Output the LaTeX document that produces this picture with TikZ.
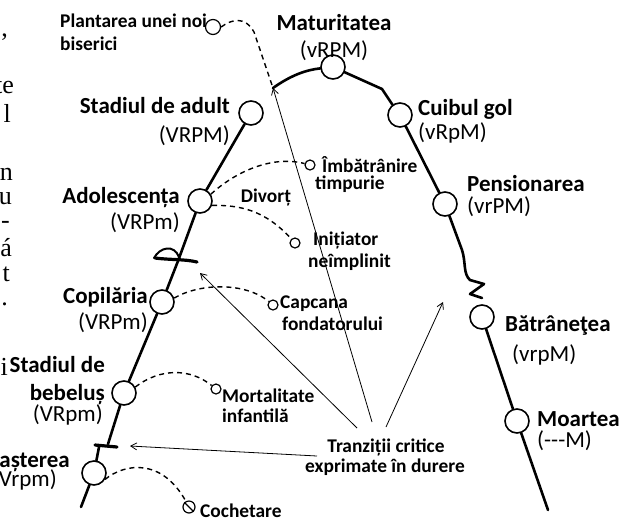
\documentclass[tikz,border=0pt]{standalone}
\usepackage{fontspec}
\setmainfont{Carlito}
\newfontfamily\fragfont{Liberation Serif}
\usetikzlibrary{arrows.meta}
\begin{document}
\begin{tikzpicture}[x=1pt,y=-1pt,
  stage/.style={circle, draw, line width=1.6pt, fill=white, minimum size=24pt, inner sep=0pt},
  mini/.style={circle, draw, line width=1.2pt, fill=white, minimum size=10pt, inner sep=0pt},
  mainline/.style={line width=2.6pt, line cap=round, line join=round},
  crack/.style={line width=3.2pt, line cap=round, line join=round},
  dashline/.style={line width=1.4pt, dash pattern=on 5pt off 4pt},
  pain/.style={line width=0.8pt, -{Straight Barb[length=6pt,width=7pt]}},
  lab/.style={font=\bfseries\fontsize{23}{27}\selectfont, inner sep=0pt},
  sub/.style={font=\fontsize{23}{27}\selectfont, inner sep=0pt},
  tr/.style={font=\bfseries\fontsize{19.4}{23}\selectfont, inner sep=0pt},
  frag/.style={font=\fragfont\fontsize{26}{28}\selectfont, inner sep=0pt}
]
\useasboundingbox (0,0) rectangle (620,520);

% ---------- stage circles ----------
\node[stage] (nMat)   at (333,67)  {};
\node[stage] (nCuib)  at (400,115) {};
\node[stage] (nAdult) at (251,113) {};
\node[stage] (nAdol)  at (200,201) {};
\node[stage] (nCop)   at (162,302) {};
\node[stage] (nPens)  at (445,204) {};
\node[stage] (nBatr)  at (482,317) {};
\node[stage] (nBeb)   at (124,393) {};
\node[stage] (nNast)  at (94,473)  {};
\node[stage] (nMoar)  at (517,421) {};

% ---------- small circles ----------
\node[mini, minimum size=15pt] (mPlant) at (213,27) {};
\node[mini] (mImb)  at (310,165) {};
\node[mini] (mInit) at (295,243) {};
\node[mini] (mCap)  at (273,305) {};
\node[mini] (mMort) at (216,389) {};
\node[mini, minimum size=12pt] (mCoch) at (189,507) {};
\draw[line width=1.1pt] (mCoch.135) -- (mCoch.-45);

% ---------- helper coordinates ----------
\coordinate (startL) at (81,507);
\coordinate (k1a) at (99,447);
\coordinate (k1b) at (108,444);
\coordinate (k2)  at (178,261);
\coordinate (mstart) at (273,88);
\coordinate (m1) at (382,89);
\coordinate (m2) at (392,104);
\coordinate (endR) at (548,510);

% ---------- main life line ----------
\draw[mainline] (startL) -- (nNast);
\draw[mainline] (nNast) -- (k1a);
\draw[mainline] (k1b) -- (nBeb);
\draw[mainline] (nBeb) -- (nCop);
\draw[mainline] (nCop) -- (k2) -- (nAdol);
\draw[mainline] (nAdol) -- (nAdult);
\draw[mainline] (mstart) .. controls (290,76) and (305,70) .. (nMat);
\draw[mainline] (nMat) -- (m1) -- (m2) -- (nCuib);
\draw[mainline] (nCuib) -- (nPens);
\draw[mainline] (nPens) -- (462,250) .. controls (466,262) and (463,274) .. (470,280)
   -- (484,284) -- (470,294) -- (482,298);
\draw[mainline] (nBatr) -- (nMoar);
\draw[mainline] (nMoar) -- (endR);

% ---------- crack marks ----------
\draw[crack] (95,445) -- (117,447);
\draw[line width=2pt, line cap=round] (154,258) .. controls (160,247) and (174,244) .. (179,257);
\draw[crack] (155,258) .. controls (170,260) and (185,259) .. (197,262);

% ---------- dashed branches ----------
\draw[dashline] (mPlant.east) .. controls (232,19) and (245,16) .. (254,32) -- (mstart);
\draw[dashline] (nAdol.32) .. controls (235,172) and (272,155) .. (mImb);
\draw[dashline] (nAdol.-20) .. controls (240,205) and (265,210) .. (mInit);
\draw[dashline] (nCop.18) .. controls (200,283) and (245,282) .. (mCap);
\draw[dashline] (nBeb.28) .. controls (160,368) and (190,368) .. (mMort);
\draw[dashline] (nNast.-30) .. controls (125,463) and (162,458) .. (mCoch);

% ---------- critical transitions ----------
\node[tr, anchor=base] (tr1) at (386,452) {Tranziții critice};
\node[tr, anchor=base] (tr2) at (385,472) {exprimate în durere};
\coordinate (ta1) at (357,428);
\coordinate (ta2) at (372,422);
\coordinate (ta3) at (386,427);
\coordinate (ta4) at (317,456);
\coordinate (tg1) at (200,273);
\coordinate (tg3) at (443,302);
\coordinate (tg4) at (130,446);
\draw[pain] (ta1) -- (tg1);
\draw[pain] (ta2) -- (mstart);
\draw[pain] (ta3) -- (tg3);
\draw[pain] (ta4) -- (tg4);

% ---------- stage labels ----------
\node[lab, anchor=base] (tMat) at (334,30) {Maturitatea};
\node[sub, anchor=base] (sMat) at (334,57) {(vRPM)};
\node[lab, anchor=base east] (tAdult) at (230,113) {Stadiul de adult};
\node[sub, anchor=base east] (sAdult) at (230,142) {(VRPM)};
\node[lab, anchor=base west] (tCuib) at (418,115) {Cuibul gol};
\node[sub, anchor=base west] (sCuib) at (418,139) {(vRpM)};
\node[lab, anchor=base east] (tAdol) at (180,203) {Adolescența};
\node[sub, anchor=base east] (sAdol) at (180,229) {(VRPm)};
\node[lab, anchor=base east] (tCop) at (148,303) {Copilăria};
\node[sub, anchor=base east] (sCop) at (148,329) {(VRPm)};
\node[lab, anchor=base west] (tPens) at (467,191) {Pensionarea};
\node[sub, anchor=base west] (sPens) at (467,213) {(vrPM)};
\node[lab, anchor=base west] (tBatr) at (505,331) {Bătrâneţea};
\node[sub, anchor=base west] (sBatr) at (512,361) {(vrpM)};
\node[lab, anchor=base west] (tMoar) at (537,426) {Moartea};
\node[sub, anchor=base west] (sMoar) at (537,447) {({-}{-}{-}M)};
\node[lab, anchor=base east] (tBeb1) at (105,372) {Stadiul de};
\node[lab, anchor=base east] (tBeb2) at (105,400) {bebeluș};
\node[sub, anchor=base east] (sBeb) at (103,421) {(VRpm)};
\node[lab, anchor=base east] (tNast) at (70,467) {Nașterea};
\node[sub, anchor=base east] (sNast) at (57,486) {(Vrpm)};

% ---------- branch labels ----------
\node[tr, anchor=base west] (lPl1) at (60,27) {Plantarea unei noi};
\node[tr, anchor=base west] (lPl2) at (60,50) {biserici};
\node[tr, anchor=base] (lDiv) at (266,202) {Divorț};
\node[tr, anchor=base west] (lImb1) at (322,172) {Îmbătrânire};
\node[tr, anchor=base west] (lImb2) at (315,189) {timpurie};
\node[tr, anchor=base west] (lIn1) at (313,245) {Inițiator};
\node[tr, anchor=base west] (lIn2) at (308,267) {neîmplinit};
\node[tr, anchor=base west] (lCap1) at (280,308) {Capcana};
\node[tr, anchor=base west] (lCap2) at (282,330) {fondatorului};
\node[tr, anchor=base west] (lMo1) at (222,402) {Mortalitate};
\node[tr, anchor=base west] (lMo2) at (222,422) {infantilă};
\node[tr, anchor=base west] (lCoch) at (200,517) {Cochetare};

% ---------- cropped page text at left edge ----------
\node[frag, anchor=base east] (f1) at (8,36) {,};
\node[frag, anchor=base east] (f2) at (14,93) {te};
\node[frag, anchor=base east] (f3) at (11,122) {l};
\node[frag, anchor=base east] (f4) at (13,180) {n};
\node[frag, anchor=base east] (f5) at (12,204) {u};
\node[frag, anchor=base east] (f6) at (10,228) {-};
\node[frag, anchor=base east] (f7) at (12,256) {á};
\node[frag, anchor=base east] (f8) at (10,281) {t};
\node[frag, anchor=base east] (f9) at (8,305) {.};
\node[frag, anchor=base east] (f10) at (8,375) {i};
\end{tikzpicture}
\end{document}
